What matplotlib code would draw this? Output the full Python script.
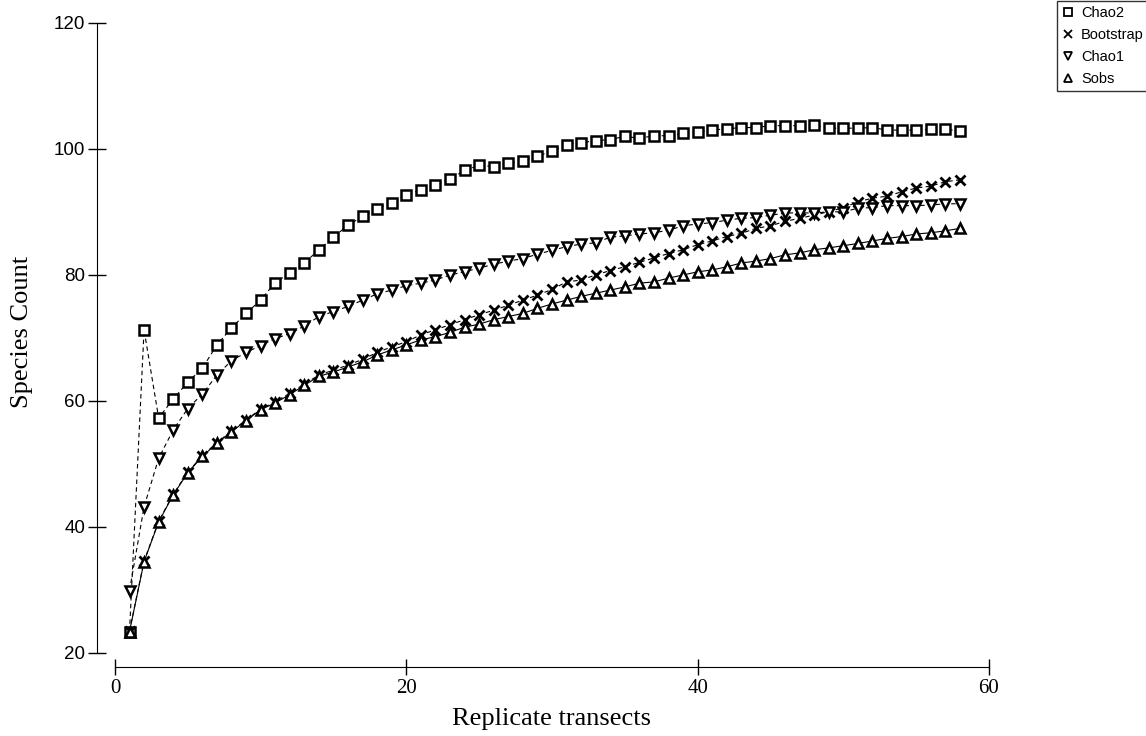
import numpy as np
import matplotlib.pyplot as plt

# Muestreo: transectos replicados 1..58
transectos = np.arange(1, 59)

chao2 = [23.4, 71.3, 57.3, 60.3, 63.0, 65.2, 68.9, 71.6, 73.9, 76.0,
         78.8, 80.3, 81.9, 84.0, 86.0, 87.9, 89.3, 90.5, 91.5, 92.7,
         93.5, 94.3, 95.2, 96.6, 97.4, 97.2, 97.7, 98.1, 98.9, 99.6,
         100.7, 101.0, 101.3, 101.5, 102.0, 101.7, 102.1, 102.1, 102.5, 102.7,
         103.0, 103.2, 103.4, 103.4, 103.7, 103.7, 103.7, 103.8, 103.3, 103.3,
         103.3, 103.4, 103.0, 103.0, 103.0, 103.1, 103.1, 102.9]

bootstrap = [23.5, 34.6, 40.9, 45.2, 48.7, 51.3, 53.4, 55.2, 57.0, 58.7,
             59.9, 61.2, 62.7, 64.1, 64.9, 65.7, 66.6, 67.7, 68.6, 69.4,
             70.5, 71.3, 72.1, 72.9, 73.7, 74.4, 75.2, 76.0, 76.8, 77.7,
             78.9, 79.2, 80.0, 80.7, 81.3, 82.0, 82.7, 83.4, 84.0, 84.8,
             85.4, 86.1, 86.6, 87.4, 87.8, 88.5, 89.0, 89.5, 90.05, 90.7,
             91.6, 92.2, 92.5, 93.2, 93.8, 94.1, 94.8, 95.1]

chao1 = [29.9, 43.2, 50.9, 55.4, 58.8, 61.1, 64.1, 66.4, 67.7, 68.8,
         69.9, 70.7, 71.9, 73.4, 74.2, 75.0, 76.0, 77.0, 77.6, 78.3,
         78.7, 79.2, 80.0, 80.5, 81.1, 81.7, 82.2, 82.6, 83.3, 83.9,
         84.5, 84.9, 85.1, 86.0, 86.2, 86.5, 86.7, 87.1, 87.8, 88.1,
         88.3, 88.7, 89.0, 89.1, 89.5, 89.8, 89.9, 89.8, 90.05, 90.0,
         90.6, 90.7, 91.0, 91.0, 91.0, 91.1, 91.3, 91.3]

sobs = [23.4, 34.5, 40.8, 45.1, 48.6, 51.2, 53.3, 55.1, 56.9, 58.6,
        59.7, 61.0, 62.5, 63.9, 64.6, 65.4, 66.2, 67.3, 68.1, 68.9,
        69.7, 70.2, 70.9, 71.7, 72.2, 72.9, 73.4, 73.9, 74.7, 75.4,
        76.0, 76.6, 77.1, 77.6, 78.1, 78.7, 78.9, 79.5, 80.0, 80.5,
        80.8, 81.3, 81.9, 82.2, 82.6, 83.2, 83.5, 84.0, 84.3, 84.65,
        85.0, 85.4, 85.8, 86.1, 86.5, 86.7, 87.0, 87.4]

fig = plt.figure(figsize=(11.46, 7.36), dpi=100)
ax = fig.add_axes([0.1003, 0.1128, 0.7627, 0.8560])

guion = (0, (4, 3))
ax.plot(transectos, chao2, color='black', lw=0.8, ls=guion,
        marker='s', ms=6.5, mfc='white', mec='black', mew=1.8, label='Chao2')
ax.plot(transectos, bootstrap, color='black', lw=0.8, ls=guion,
        marker='x', ms=7, mec='black', mew=2.0, label='Bootstrap')
ax.plot(transectos, chao1, color='black', lw=0.8, ls=guion,
        marker='v', ms=7.5, mfc='white', mec='black', mew=1.8, label='Chao1')
ax.plot(transectos, sobs, color='black', lw=0.8, ls='-',
        marker='^', ms=7.5, mfc='white', mec='black', mew=1.8, label='Sobs')

ax.set_xlim(0, 60)
ax.set_ylim(20, 120)
ax.set_xticks([0, 20, 40, 60])
ax.set_yticks([20, 40, 60, 80, 100, 120])

for s in ['top', 'right']:
    ax.spines[s].set_visible(False)
ax.spines['left'].set_position(('outward', 13))
ax.spines['bottom'].set_position(('outward', 10))
ax.spines['left'].set_bounds(20, 120)
ax.spines['bottom'].set_bounds(0, 60)

ax.tick_params(axis='y', direction='inout', length=13, width=1, pad=2,
               labelsize=13.5)
ax.tick_params(axis='x', direction='inout', length=11, width=1, pad=3,
               labelsize=15)
for t in ax.get_yticklabels():
    t.set_family('Liberation Sans')
for t in ax.get_xticklabels():
    t.set_family('Liberation Serif')

ax.set_xlabel('Replicate transects', family='Liberation Serif', fontsize=19)
ax.set_ylabel('Species Count', family='Liberation Serif', fontsize=19)
ax.xaxis.set_label_coords(0.5, -0.087)
ax.yaxis.set_label_coords(-0.094, 0.51)

leg = fig.legend(loc='upper left', bbox_to_anchor=(1057 / 1146, 1 - 1 / 736),
                 frameon=True, fancybox=False, handlelength=0.8,
                 handletextpad=0.5, borderpad=0.35, labelspacing=0.55,
                 borderaxespad=0,
                 prop={'family': 'Liberation Sans', 'size': 10.5})
leg.get_frame().set_edgecolor('black')
leg.get_frame().set_linewidth(1)
for h in leg.legend_handles:
    h.set_linestyle('none')
    h.set_markersize(6)
    h.set_markeredgewidth(1.3)

fig.savefig('out.png', dpi=100)
